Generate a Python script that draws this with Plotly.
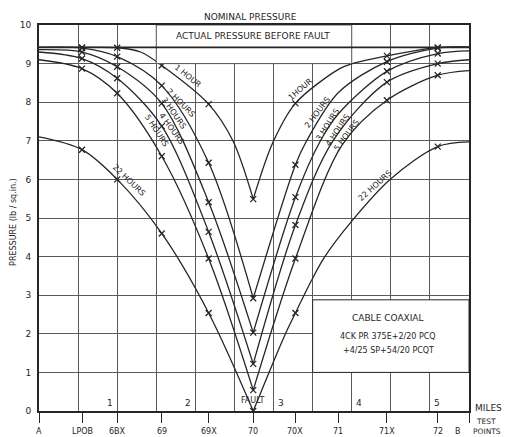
import plotly.graph_objects as go

# ---------------- data ----------------
TP = ["A", "LPOB", "6BX", "69", "69X", "70", "70X", "71", "71X", "72", "B"]
TP_MI = [0, 0.55, 1.0, 1.57, 2.17, 2.74, 3.28, 3.83, 4.45, 5.1, 5.5]
MARKED = ["LPOB", "6BX", "69", "69X", "70", "70X", "71X", "72"]
MILES = [1, 2, 3, 4, 5]
Y_TICKS = list(range(0, 11))
ACTUAL_P = 9.42
NOMINAL_P = 10
FAULT_MI = 2.74

H1_LX = [0, 0.55, 1.0, 1.3, 1.57, 2.17, 2.48, 2.74]
H1_LY = [9.42, 9.42, 9.41, 9.3, 8.95, 7.95, 7.0, 5.49]
H1_RX = [2.74, 2.99, 3.28, 3.83, 4.01, 4.45, 5.1, 5.5]
H1_RY = [5.49, 6.95, 7.97, 8.85, 9.0, 9.2, 9.42, 9.43]

H2_LX = [0, 0.55, 1.0, 1.57, 2.17, 2.74]
H2_LY = [9.42, 9.40, 9.18, 8.43, 6.43, 2.92]
H2_RX = [2.74, 3.28, 3.41, 3.83, 4.45, 5.1, 5.5]
H2_RY = [2.92, 6.38, 6.95, 8.25, 9.05, 9.40, 9.42]

H3_LX = [0, 0.55, 1.0, 1.57, 2.17, 2.74]
H3_LY = [9.36, 9.30, 8.92, 7.97, 5.41, 2.03]
H3_RX = [2.74, 3.28, 3.6, 3.83, 4.45, 5.1, 5.5]
H3_RY = [2.03, 5.54, 7.0, 7.7, 8.8, 9.26, 9.33]

H4_LX = [0, 0.55, 1.0, 1.57, 2.17, 2.74]
H4_LY = [9.30, 9.13, 8.62, 7.38, 4.64, 1.22]
H4_RX = [2.74, 3.28, 3.76, 4.45, 5.1, 5.5]
H4_RY = [1.22, 4.82, 7.0, 8.52, 9.0, 9.1]

H5_LX = [0, 0.55, 1.0, 1.57, 2.17, 2.74]
H5_LY = [9.10, 8.87, 8.23, 6.60, 3.95, 0.54]
H5_RX = [2.74, 3.28, 3.88, 4.45, 5.1, 5.5]
H5_RY = [0.54, 3.95, 6.9, 8.05, 8.7, 8.82]

H22_LX = [0, 0.55, 1.0, 1.57, 2.17, 2.74]
H22_LY = [7.1, 6.77, 6.0, 4.6, 2.54, 0.0]
H22_RX = [2.74, 3.13, 3.28, 3.48, 3.64, 4.0, 4.49, 5.1, 5.5]
H22_RY = [0.0, 1.9, 2.54, 3.36, 3.95, 4.92, 6.0, 6.85, 6.97]

CURVES = [
    ("1 HOUR", H1_LX, H1_LY, H1_RX, H1_RY),
    ("2 HOURS", H2_LX, H2_LY, H2_RX, H2_RY),
    ("3 HOURS", H3_LX, H3_LY, H3_RX, H3_RY),
    ("4 HOURS", H4_LX, H4_LY, H4_RX, H4_RY),
    ("5 HOURS", H5_LX, H5_LY, H5_RX, H5_RY),
    ("22 HOURS", H22_LX, H22_LY, H22_RX, H22_RY),
]

# ---------------- styling ----------------
INK = "#262626"
GRID = "#5a5a5a"
FONT = "DejaVu Sans"

marked_mi = [TP_MI[TP.index(n)] for n in MARKED]


def is_marked(x):
    return any(abs(x - m) < 1e-6 for m in marked_mi)


fig = go.Figure()

for name, lx, ly, rx, ry in CURVES:
    for xs, ys in ((lx, ly), (rx, ry)):
        fig.add_trace(go.Scatter(
            x=xs, y=ys, mode="lines", showlegend=False, hoverinfo="skip",
            line=dict(color=INK, width=1.3, shape="spline", smoothing=0.9),
        ))
    px_, py_ = [], []
    for xs, ys in ((lx, ly), (rx, ry)):
        for x, y in zip(xs, ys):
            if is_marked(x) and x not in px_:
                px_.append(x)
                py_.append(y)
    fig.add_trace(go.Scatter(
        x=px_, y=py_, mode="markers", showlegend=False, name=name,
        marker=dict(symbol="x-thin", size=6, line=dict(width=1.3, color=INK)),
    ))

# curve labels (left branch, right branch)
LABELS = [
    ("1 HOUR", 1.91, 8.67, 39), ("2 HOURS", 1.81, 8.0, 45),
    ("3 HOURS", 1.73, 7.72, 55), ("4 HOURS", 1.69, 7.31, 54),
    ("5 HOURS", 1.50, 7.26, 57), ("22 HOURS", 1.15, 5.97, 44),
    ("1HOUR", 3.34, 8.33, -41), ("2 HOURS", 3.56, 7.74, -53),
    ("3 HOURS", 3.70, 7.41, -58), ("4 HOURS", 3.82, 7.26, -56),
    ("5 HOURS", 3.93, 7.15, -53), ("22 HOURS", 4.30, 5.85, -42),
]
ann = []
for t, x, y, a in LABELS:
    ann.append(dict(x=x, y=y, xref="x", yref="y", text=t, textangle=a,
                    showarrow=False, font=dict(family=FONT, size=8, color=INK)))

# mile numbers inside the plot
for m in MILES:
    ann.append(dict(x=m, y=0, xref="x", yref="y", text=str(m), showarrow=False,
                    xanchor="right" if m <= 2 else "left",
                    xshift=-2 if m <= 2 else 2, yanchor="bottom", yshift=1,
                    font=dict(family=FONT, size=9, color=INK)))

# test point labels (below the axis, paper-referenced vertically)
for name, mi in zip(TP, TP_MI):
    ann.append(dict(x=mi, y=-0.052, xref="x", yref="paper", text=name,
                    showarrow=False, xanchor="center", yanchor="middle",
                    xshift=-11 if name == "B" else 0,
                    font=dict(family=FONT, size=8, color=INK)))

ann += [
    dict(x=1.0, y=0.008, xref="paper", yref="paper", text="MILES", showarrow=False,
         xanchor="right", yanchor="middle", xshift=35,
         font=dict(family=FONT, size=9, color=INK)),
    dict(x=1.0, y=-0.026, xref="paper", yref="paper", text="TEST", showarrow=False,
         xanchor="right", yanchor="middle", xshift=29,
         font=dict(family=FONT, size=7.5, color=INK)),
    dict(x=1.0, y=-0.054, xref="paper", yref="paper", text="POINTS", showarrow=False,
         xanchor="right", yanchor="middle", xshift=34,
         font=dict(family=FONT, size=7.5, color=INK)),
    dict(x=FAULT_MI, y=0.1, xref="x", yref="y", text="FAULT", showarrow=False,
         yanchor="bottom", font=dict(family=FONT, size=8, color=INK)),
    dict(x=2.70, y=1.0, xref="x", yref="paper", text="NOMINAL PRESSURE",
         showarrow=False, yanchor="bottom", yshift=1,
         font=dict(family=FONT, size=9, color=INK)),
    dict(x=FAULT_MI, y=9.72, xref="x", yref="y", text="ACTUAL PRESSURE BEFORE FAULT",
         showarrow=False, font=dict(family=FONT, size=9, color=INK)),
    dict(x=4.47, y=2.41, xref="x", yref="y", text="CABLE COAXIAL", showarrow=False,
         font=dict(family=FONT, size=9, color=INK)),
    dict(x=4.47, y=1.93, xref="x", yref="y", text="4CK PR 375E+2/20 PCQ",
         showarrow=False, font=dict(family=FONT, size=8, color=INK)),
    dict(x=4.47, y=1.56, xref="x", yref="y", text="+4/25 SP+54/20 PCQT",
         showarrow=False, font=dict(family=FONT, size=8, color=INK)),
    dict(x=-0.058, y=0.49, xref="paper", yref="paper", text="PRESSURE (lb / sq.in.)",
         textangle=-90, showarrow=False, xanchor="center", yanchor="middle",
         font=dict(family=FONT, size=8, color=INK)),
]

shapes = [
    dict(type="rect", xref="x", yref="y", x0=1.5, x1=4.0, y0=9.0, y1=NOMINAL_P,
         fillcolor="white", line=dict(color=GRID, width=1), layer="above"),
    dict(type="rect", xref="x", yref="y", x0=3.5, x1=5.5, y0=1.0, y1=2.88,
         fillcolor="white", line=dict(color=INK, width=1), layer="above"),
    dict(type="line", xref="x", yref="y", x0=0, x1=5.5, y0=ACTUAL_P, y1=ACTUAL_P,
         line=dict(color=INK, width=1.6), layer="above"),
]

fig.update_layout(
    width=503, height=429,
    margin=dict(l=29, r=42, t=12, b=26),
    paper_bgcolor="white", plot_bgcolor="white",
    showlegend=False,
    annotations=ann, shapes=shapes,
    xaxis=dict(range=[0, 5.5], tickmode="array", tickvals=TP_MI,
               showticklabels=False, ticks="outside", ticklen=10, tickcolor=INK,
               tickwidth=1, showgrid=False,
               minor=dict(tickmode="linear", tick0=0, dtick=0.5, showgrid=True,
                          gridcolor=GRID, gridwidth=1, ticks=""),
               zeroline=False, showline=True, mirror=True,
               linecolor=INK, linewidth=1.6),
    yaxis=dict(range=[0, 10], tickmode="array", tickvals=Y_TICKS,
               ticktext=[str(v) for v in Y_TICKS], showgrid=True, gridcolor=GRID,
               gridwidth=1, zeroline=False, showline=True, mirror=True,
               linecolor=INK, linewidth=1.8, ticks="", ticklabelstandoff=4,
               tickfont=dict(family=FONT, size=9, color=INK)),
    font=dict(family=FONT, color=INK),
)

fig.write_html("out.html")
